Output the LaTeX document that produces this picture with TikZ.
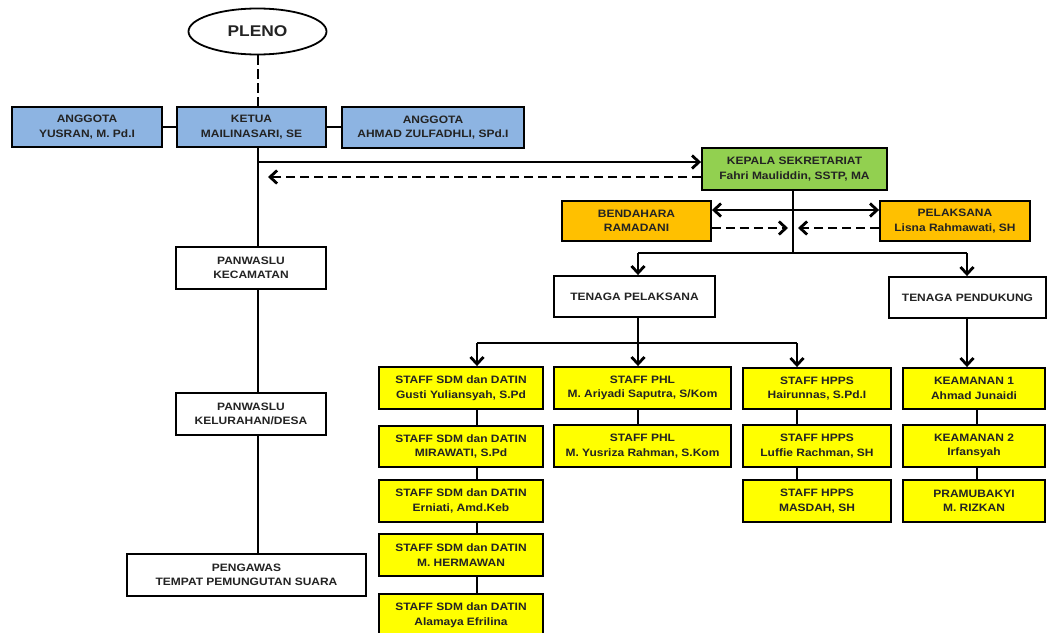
\documentclass[tikz,border=0pt]{standalone}
\usepackage{fontspec}
\setmainfont{Liberation Sans}[FakeStretch=1.12]
\usetikzlibrary{shapes.geometric,arrows.meta}
\definecolor{cblue}{RGB}{141,180,226}
\definecolor{cgreen}{RGB}{146,208,80}
\definecolor{corange}{RGB}{255,192,0}
\definecolor{cyellow}{RGB}{255,255,0}
\definecolor{ctext}{RGB}{35,35,35}
\begin{document}
\begin{tikzpicture}[x=1pt,y=-1pt,
  every node/.style={font=\bfseries\fontsize{10.7}{14.5}\selectfont, text=ctext, align=center, inner sep=0pt},
  box/.style={draw=black, line width=1.9pt, rectangle},
  bluebox/.style={box, fill=cblue},
  greenbox/.style={box, fill=cgreen},
  orangebox/.style={box, fill=corange},
  yelbox/.style={box, fill=cyellow},
  whitebox/.style={box, fill=white},
  conn/.style={line width=2.8pt},
  arr/.style={conn, -{Straight Barb[length=7pt,width=13pt]}},
  darr/.style={conn, {Straight Barb[length=7pt,width=13pt]}-{Straight Barb[length=7pt,width=13pt]}},
]
\useasboundingbox (0,0) rectangle (1049,632);

% top
\node[draw=black, line width=1.8pt, ellipse, minimum width=138pt, minimum height=46pt, fill=white,
  font=\bfseries\fontsize{15.5}{18}\selectfont] (pleno) at (257.5,31.5) {PLENO};
\node[bluebox, minimum width=150pt, minimum height=40pt] (ang1) at (87,127) {ANGGOTA\\YUSRAN, M. Pd.I};
\node[bluebox, minimum width=149pt, minimum height=40pt] (ketua) at (251.5,127) {KETUA\\MAILINASARI, SE};
\node[bluebox, minimum width=182pt, minimum height=41pt] (ang2) at (433,127.5) {ANGGOTA\\AHMAD ZULFADHLI, SPd.I};

% left chain
\node[whitebox, minimum width=150pt, minimum height=42pt] (pk) at (251,268) {PANWASLU\\KECAMATAN};
\node[whitebox, minimum width=150pt, minimum height=42pt] (pkel) at (251,414) {PANWASLU\\KELURAHAN/DESA};
\node[whitebox, minimum width=239pt, minimum height=42pt] (ptps) at (246.5,575) {PENGAWAS\\TEMPAT PEMUNGUTAN SUARA};

% secretariat
\node[greenbox, minimum width=185pt, minimum height=42pt] (kep) at (794.5,169) {KEPALA SEKRETARIAT\\Fahri Mauliddin, SSTP, MA};
\node[orangebox, minimum width=149pt, minimum height=40pt] (bend) at (636.5,221) {BENDAHARA\\RAMADANI};
\node[orangebox, minimum width=150pt, minimum height=40pt] (pel) at (955,221) {PELAKSANA\\Lisna Rahmawati, SH};

\node[whitebox, minimum width=161pt, minimum height=41pt] (tp) at (634.5,296.5) {TENAGA PELAKSANA};
\node[whitebox, minimum width=157pt, minimum height=41pt] (td) at (967.5,297.5) {TENAGA PENDUKUNG};

% column 1
\node[yelbox, minimum width=164pt, minimum height=42pt] (a1) at (461,388) {STAFF SDM dan DATIN\\Gusti Yuliansyah, S.Pd};
\node[yelbox, minimum width=164pt, minimum height=41pt] (a2) at (461,446.5) {STAFF SDM dan DATIN\\MIRAWATI, S.Pd};
\node[yelbox, minimum width=164pt, minimum height=42pt] (a3) at (461,501) {STAFF SDM dan DATIN\\Erniati, Amd.Keb};
\node[yelbox, minimum width=164pt, minimum height=42pt] (a4) at (461,555) {STAFF SDM dan DATIN\\M. HERMAWAN};
\node[yelbox, minimum width=164pt, minimum height=42pt] (a5) at (461,615) {STAFF SDM dan DATIN\\Alamaya Efrilina};
% column 2
\node[yelbox, minimum width=177pt, minimum height=42pt] (b1) at (642.5,388) {STAFF PHL\\M. Ariyadi Saputra, S/Kom};
\node[yelbox, minimum width=177pt, minimum height=42pt] (b2) at (642.5,446) {STAFF PHL\\M. Yusriza Rahman, S.Kom};
% column 3
\node[yelbox, minimum width=148pt, minimum height=41pt] (c1) at (817,388.5) {STAFF HPPS\\Hairunnas, S.Pd.I};
\node[yelbox, minimum width=148pt, minimum height=42pt] (c2) at (817,446) {STAFF HPPS\\Luffie Rachman, SH};
\node[yelbox, minimum width=148pt, minimum height=42pt] (c3) at (817,501) {STAFF HPPS\\MASDAH, SH};
% column 4
\node[yelbox, minimum width=142pt, minimum height=41pt] (d1) at (974,388.5) {KEAMANAN 1\\Ahmad Junaidi};
\node[yelbox, minimum width=142pt, minimum height=42pt] (d2) at (974,446) {KEAMANAN 2\\Irfansyah};
\node[yelbox, minimum width=142pt, minimum height=42pt] (d3) at (974,501) {PRAMUBAKYI\\M. RIZKAN};

% helper coordinates
\coordinate (sp) at (258,0);
\coordinate (j1) at (258,162);
\coordinate (dtip) at (268,177);
\coordinate (kx) at (793,0);
\coordinate (bar1) at (793,253);
\coordinate (tpx) at (638,0);
\coordinate (bar2) at (638,343);
\coordinate (x1) at (477,0);
\coordinate (x2) at (638,0);
\coordinate (x3) at (797,0);
\coordinate (x4) at (977,0);
\coordinate (tdx) at (967,0);
\coordinate (bl) at (788,228);
\coordinate (pr) at (798,228);

% top connectors
\draw[conn, dash pattern=on 10pt off 4pt] (pleno.south -| sp) -- (ketua.north -| sp);
\draw[conn] (ang1.east) -- (ketua.west);
\draw[conn] (ketua.east) -- (ang2.west |- ketua.east);
\draw[conn] (ketua.south -| sp) -- (pk.north -| sp);
\draw[conn] (pk.south -| sp) -- (pkel.north -| sp);
\draw[conn] (pkel.south -| sp) -- (ptps.north -| sp);
\draw[arr] (j1) -- (j1 -| kep.west);
\draw[arr, dash pattern=on 9pt off 5pt] (dtip -| kep.west) -- (dtip);

% secretariat connectors
\draw[conn] (kep.south -| kx) -- (bar1);
\draw[darr] (bend.east |- 0,210) -- (pel.west |- 0,210);
\draw[arr, dash pattern=on 9pt off 5pt] (bend.east |- bl) -- (bl);
\draw[arr, dash pattern=on 9pt off 5pt] (pel.west |- pr) -- (pr);
\draw[conn] (bar1 -| tpx) -- (bar1 -| tdx);
\draw[arr] (bar1 -| tpx) -- (tp.north -| tpx);
\draw[arr] (bar1 -| tdx) -- (td.north -| tdx);

% tenaga pelaksana
\draw[conn] (tp.south -| tpx) -- (bar2);
\draw[conn] (bar2 -| x1) -- (bar2 -| x3);
\draw[arr] (bar2 -| x1) -- (a1.north -| x1);
\draw[arr] (bar2 -| x2) -- (b1.north -| x2);
\draw[arr] (bar2 -| x3) -- (c1.north -| x3);
\draw[arr] (td.south -| tdx) -- (d1.north -| tdx);

% columns
\draw[conn] (a1.south -| x1) -- (a2.north -| x1);
\draw[conn] (a2.south -| x1) -- (a3.north -| x1);
\draw[conn] (a3.south -| x1) -- (a4.north -| x1);
\draw[conn] (a4.south -| x1) -- (a5.north -| x1);
\draw[conn] (b1.south -| x2) -- (b2.north -| x2);
\draw[conn] (c1.south -| x3) -- (c2.north -| x3);
\draw[conn] (c2.south -| x3) -- (c3.north -| x3);
\draw[conn] (d1.south -| x4) -- (d2.north -| x4);
\draw[conn] (d2.south -| x4) -- (d3.north -| x4);
\end{tikzpicture}
\end{document}
